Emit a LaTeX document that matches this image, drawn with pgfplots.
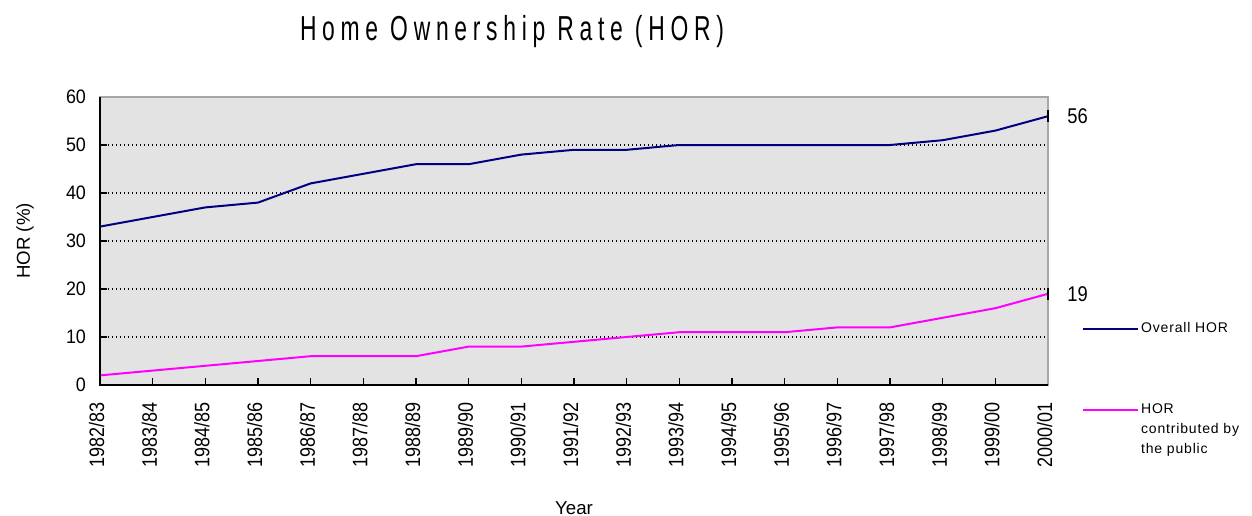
\documentclass[border=0pt]{standalone}
\usepackage{fontspec}
\setmainfont{Liberation Sans}
\newfontfamily\titlefont[FakeStretch=0.66,LetterSpace=16.5]{Liberation Sans}
\newfontfamily\tickfont[FakeStretch=0.86]{Liberation Sans}
\newfontfamily\ytickfont[FakeStretch=0.92]{Liberation Sans}
\newfontfamily\legfont[LetterSpace=6]{Liberation Sans}
\usepackage{pgfplots}
\pgfplotsset{compat=1.18}
\definecolor{bg}{RGB}{227,227,227}
\definecolor{navyhor}{RGB}{0,0,128}
\definecolor{maghor}{RGB}{255,0,255}
\begin{document}
\begin{tikzpicture}
\path[use as bounding box] (-75pt,-98.25pt) rectangle (864pt,288.75pt);
\begin{axis}[
  at={(0,0)}, anchor=south west,
  scale only axis, width=711pt, height=216pt,
  xmin=0, xmax=18, ymin=0, ymax=60,
  axis background/.style={fill=bg},
  axis line style={draw=gray!70, line width=1pt},
  xtick={0,...,18},
  xticklabels={1982/83,1983/84,1984/85,1985/86,1986/87,1987/88,1988/89,1989/90,1990/91,1991/92,1992/93,1993/94,1994/95,1995/96,1996/97,1997/98,1998/99,1999/00,2000/01},
  ytick={0,10,...,60},
  /pgf/number format/assume math mode=true,
  tick pos=left, tick align=inside,
  major tick length=5pt,
  tick style={black, line width=1pt},
  xticklabel style={rotate=90, anchor=east, yshift=2.5pt, font=\tickfont\fontsize{15.7}{17}\selectfont},
  yticklabel style={font=\ytickfont\fontsize{14.6}{16}\selectfont},
  xticklabel shift=9.75pt,
  yticklabel shift=7pt,
  ymajorgrids,
  grid style={black, line width=1pt, dash pattern=on 1pt off 2pt},
  title={\titlefont\fontsize{26}{30}\selectfont Home Ownership Rate (HOR)},
  title style={at={(axis description cs:0.4346,1.170)}, anchor=base},
  xlabel={Year},
  xlabel style={at={(axis description cs:0.5,-0.427)}, anchor=center, font=\fontsize{14}{16}\selectfont},
  ylabel={HOR (\%)},
  ylabel style={at={(axis description cs:-0.079,0.5)}, anchor=center, font=\fontsize{14}{16}\selectfont},
  clip=false,
  legend image code/.code={\draw[#1] (0pt,0pt) -- (41pt,0pt);},
  legend cell align=left,
  legend style={draw=none, fill=none, inner sep=0pt,
    at={(axis description cs:1.036,0.226)}, anchor=north west,
    row sep=47.5pt, font=\legfont\fontsize{10.5}{15}\selectfont,
    nodes={inner xsep=1.5pt}},
]
\addplot[navyhor, line width=1.5pt, mark=|, mark indices={19}, mark size=4.5pt, mark options={black, line width=2.2pt}]
  coordinates {(0,33)(1,35)(2,37)(3,38)(4,42)(5,44)(6,46)(7,46)(8,48)(9,49)(10,49)(11,50)(12,50)(13,50)(14,50)(15,50)(16,51)(17,53)(18,56)};
\addlegendentry{Overall HOR}
\addplot[maghor, line width=1.5pt, mark=|, mark indices={19}, mark size=4.5pt, mark options={black, line width=2.2pt}]
  coordinates {(0,2)(1,3)(2,4)(3,5)(4,6)(5,6)(6,6)(7,8)(8,8)(9,9)(10,10)(11,11)(12,11)(13,11)(14,12)(15,12)(16,14)(17,16)(18,19)};
\addlegendentry{\vtop{\hbox{HOR}\hbox{contributed by}\hbox{the public}}}
\draw[black, line width=1.5pt] (rel axis cs:0,1) -- (rel axis cs:0,0) -- (rel axis cs:1,0);
\node[anchor=west, xshift=11pt, font=\tickfont\fontsize{16}{18}\selectfont] at (axis cs:18,56) {56};
\node[anchor=west, xshift=11pt, font=\tickfont\fontsize{16}{18}\selectfont] at (axis cs:18,19) {19};
\end{axis}
\end{tikzpicture}
\end{document}
